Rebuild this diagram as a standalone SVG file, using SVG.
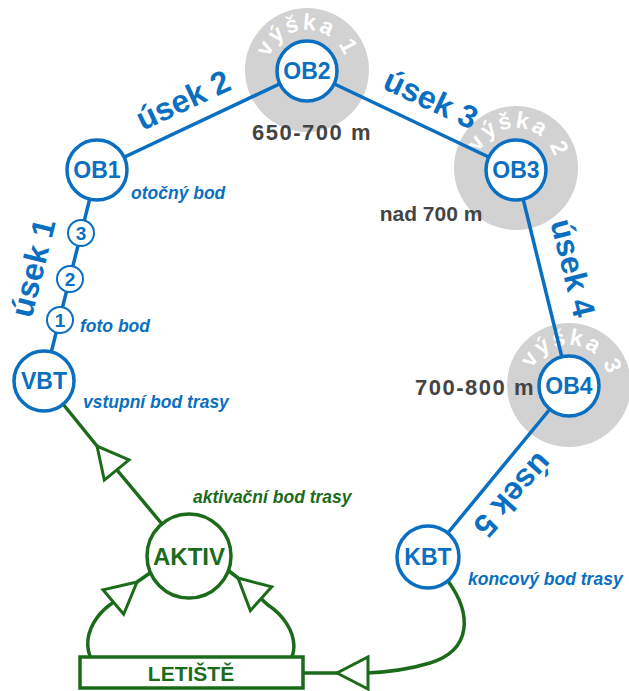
<svg xmlns="http://www.w3.org/2000/svg" width="629" height="691" viewBox="0 0 629 691">
  <style>
    .zone { fill: #d2d2d2; }
    .leg { stroke: #0b6fc1; stroke-width: 3.5; fill: none; stroke-linecap: round; }
    .node { fill: #ffffff; stroke: #0b6fc1; stroke-width: 3.5; }
    .photo { fill: #ffffff; stroke: #0b6fc1; stroke-width: 2; }
    .gnode { fill: #ffffff; stroke: #1b6b1b; stroke-width: 3.5; }
    .flow { stroke: #1b6b1b; stroke-width: 3.5; fill: none; }
    .lbl { font-family: "Liberation Sans", Arial, sans-serif; font-weight: bold; text-anchor: middle; }
    .nlbl { fill: #0b6fc1; font-size: 23px; }
    .glbl { fill: #1b6b1b; }
    .num { fill: #0b6fc1; font-size: 19px; }
    .seg { font-family: "Liberation Sans", Arial, sans-serif; font-weight: bold; font-size: 32px; fill: #0b6fc1; text-anchor: middle; }
    .note { font-family: "Liberation Sans", Arial, sans-serif; font-weight: bold; font-style: italic; font-size: 17.5px; }
    .blue { fill: #0b6fc1; }
    .green { fill: #1b6b1b; }
    .alt { font-family: "Liberation Sans", Arial, sans-serif; font-weight: bold; font-size: 21px; fill: #444444; }
    .wide { font-size: 22px; letter-spacing: 1.5px; }
    .zlbl { font-family: "Liberation Sans", Arial, sans-serif; font-weight: bold; font-size: 23px; fill: #ffffff; letter-spacing: 2.5px; }
  </style>
  <defs>
    <path id="arc" d="M-40,0 A40,40 0 0 1 40,0"/>
    <marker id="openArrow" markerUnits="userSpaceOnUse" viewBox="-36 -20 40 40" refX="0" refY="0" markerWidth="40" markerHeight="40" orient="auto">
      <path d="M0,0 L-31,-16 L-31,16 Z" fill="#ffffff" stroke="#1b6b1b" stroke-width="3"/>
    </marker>
  </defs>

  <!-- altitude zones -->
  <g id="zones">
    <circle class="zone" cx="307" cy="70" r="62"/>
    <circle class="zone" cx="516" cy="168" r="62"/>
    <circle class="zone" cx="569" cy="385" r="62"/>
    <text class="zlbl" transform="translate(307,70)"><textPath href="#arc" startOffset="50%" text-anchor="middle">výška 1</textPath></text>
    <text class="zlbl" transform="translate(516,168) rotate(5)"><textPath href="#arc" startOffset="50%" text-anchor="middle">výška 2</textPath></text>
    <text class="zlbl" transform="translate(569,385) rotate(6)"><textPath href="#arc" startOffset="50%" text-anchor="middle">výška 3</textPath></text>
  </g>

  <!-- connectors -->
  <g id="connectors">
    <line class="leg" x1="44" y1="381" x2="97" y2="170"/>
    <line class="leg" x1="97" y1="170" x2="307" y2="71"/>
    <line class="leg" x1="307" y1="71" x2="516" y2="170"/>
    <line class="leg" x1="516" y1="170" x2="569" y2="386"/>
    <line class="leg" x1="569" y1="386" x2="428" y2="557"/>

    <!-- AKTIV to VBT -->
    <path class="flow" d="M162,524 L97,446 L63,404" marker-mid="url(#openArrow)"/>
    <!-- LETIŠTĚ to AKTIV, left loop -->
    <path class="flow" d="M117,675 C78,668 80,626 111,604 L137,582" marker-end="url(#openArrow)"/>
    <path class="flow" d="M137,582 L150,573"/>
    <!-- LETIŠTĚ to AKTIV, right loop -->
    <path class="flow" d="M265,676 C306,668 300,626 268,605 L238,578" marker-end="url(#openArrow)"/>
    <path class="flow" d="M238,578 L229,571"/>
    <!-- KBT to LETIŠTĚ -->
    <path class="flow" d="M448,581 C472,614 472,650 430,663 C410,669 390,672 367,673 L337,673" marker-end="url(#openArrow)"/>
    <path class="flow" d="M337,673 L303,673"/>
  </g>

  <!-- segment labels -->
  <g id="segments">
    <text class="seg" transform="translate(33,268) rotate(-76)" y="11">úsek 1</text>
    <text class="seg" transform="translate(183,100) rotate(-25)" y="11">úsek 2</text>
    <text class="seg" transform="translate(431,99) rotate(25)" y="11">úsek 3</text>
    <text class="seg" transform="translate(573,268) rotate(76)" y="11">úsek 4</text>
    <text class="seg" transform="translate(513,495) rotate(132)" y="11">úsek 5</text>
  </g>

  <g id="photo-1"><circle class="photo" cx="60" cy="320" r="13"/><text class="lbl num" x="60" y="327">1</text></g>
  <g id="photo-2"><circle class="photo" cx="70" cy="279" r="13"/><text class="lbl num" x="70" y="286">2</text></g>
  <g id="photo-3"><circle class="photo" cx="81" cy="233" r="13"/><text class="lbl num" x="81" y="240">3</text></g>

  <g id="VBT"><circle class="node" cx="44" cy="381" r="30"/><text class="lbl nlbl" x="44" y="389">VBT</text></g>
  <g id="OB1"><circle class="node" cx="97" cy="170" r="30"/><text class="lbl nlbl" x="97" y="178">OB1</text></g>
  <g id="OB2"><circle class="node" cx="307" cy="71" r="30"/><text class="lbl nlbl" x="307" y="79">OB2</text></g>
  <g id="OB3"><circle class="node" cx="516" cy="170" r="30"/><text class="lbl nlbl" x="516" y="178">OB3</text></g>
  <g id="OB4"><circle class="node" cx="569" cy="386" r="30"/><text class="lbl nlbl" x="569" y="394">OB4</text></g>
  <g id="KBT"><circle class="node" cx="428" cy="557" r="31"/><text class="lbl nlbl" x="428" y="565">KBT</text></g>
  <g id="AKTIV"><circle class="gnode" cx="189" cy="556" r="42"/><text class="lbl glbl" x="189" y="565" font-size="24">AKTIV</text></g>
  <g id="LETISTE"><rect class="gnode" x="80" y="657" width="223" height="31"/><text class="lbl glbl" x="191" y="681" font-size="21">LETIŠTĚ</text></g>

  <!-- annotations -->
  <g id="notes">
    <text class="note blue" x="131" y="199">otočný bod</text>
    <text class="note blue" x="80" y="332">foto bod</text>
    <text class="note blue" x="83" y="408">vstupní bod trasy</text>
    <text class="note green" x="193" y="503">aktivační bod trasy</text>
    <text class="note blue" x="468" y="585">koncový bod trasy</text>
    <text class="alt wide" x="312" y="140" text-anchor="middle">650-700 m</text>
    <text class="alt" x="431" y="221" text-anchor="middle">nad 700 m</text>
    <text class="alt wide" x="535" y="395" text-anchor="end">700-800 m</text>
  </g>
</svg>
